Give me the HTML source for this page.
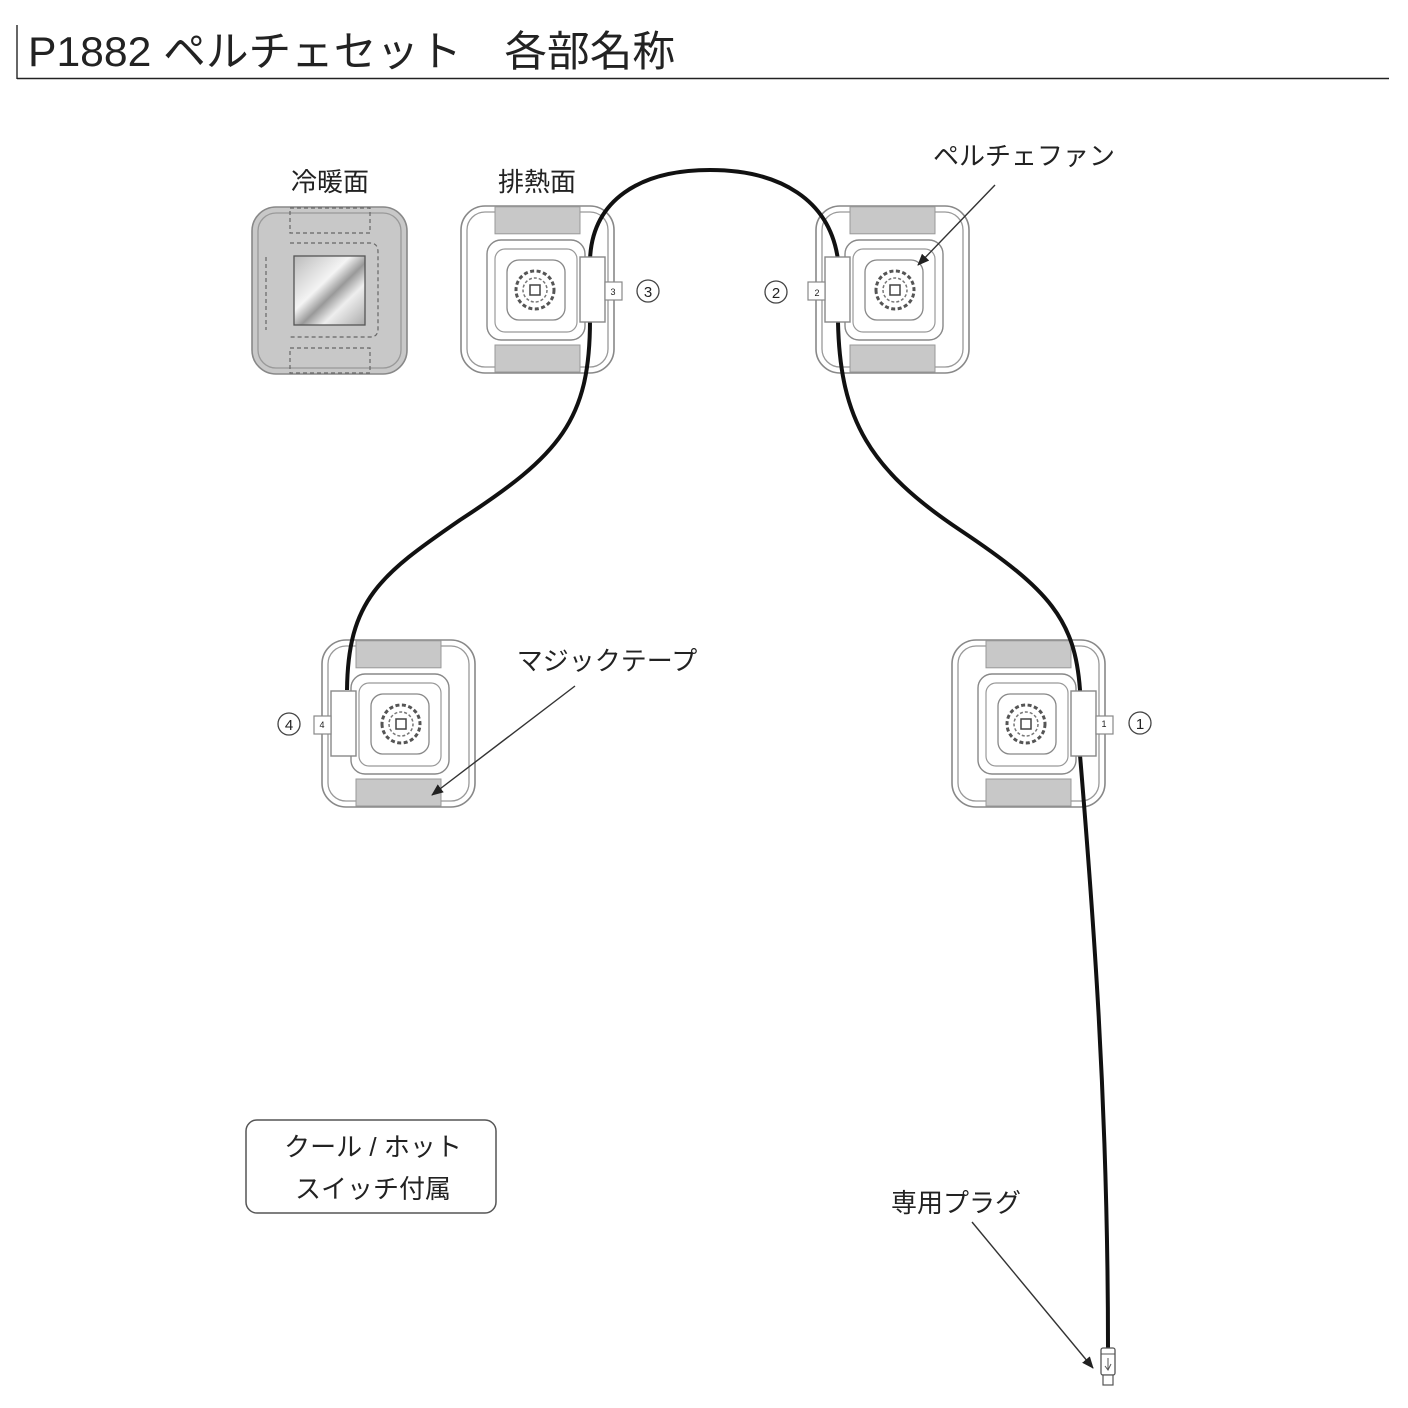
<!DOCTYPE html>
<html><head><meta charset="utf-8"><style>
html,body{margin:0;padding:0;background:#fff;}
svg{display:block}
text{font-family:"Liberation Sans","Noto Sans CJK JP",sans-serif;fill:#222}
</style></head><body>
<svg width="1408" height="1408" viewBox="0 0 1408 1408" xmlns="http://www.w3.org/2000/svg">
<defs>
<g id="mod">
  <rect x="0" y="0" width="153" height="167" rx="24" fill="#fff" stroke="#888" stroke-width="1.6"/>
  <rect x="6" y="6" width="141" height="155" rx="18" fill="none" stroke="#999" stroke-width="1.3"/>
  <rect x="34" y="0.8" width="85" height="27" fill="#c8c8c8" stroke="#999" stroke-width="1"/>
  <rect x="34" y="139" width="85" height="27" fill="#c8c8c8" stroke="#999" stroke-width="1"/>
  <rect x="26" y="34" width="98" height="100" rx="14" fill="#fff" stroke="#888" stroke-width="1.4"/>
  <rect x="34" y="43" width="82" height="83" rx="10" fill="none" stroke="#999" stroke-width="1.2"/>
  <rect x="46" y="54" width="58" height="60" rx="12" fill="#fff" stroke="#888" stroke-width="1.3"/>
  <circle cx="74" cy="84" r="19" fill="#fff" stroke="#555" stroke-width="3" stroke-dasharray="4 2.5"/>
  <circle cx="74" cy="84" r="12" fill="none" stroke="#777" stroke-width="1.5" stroke-dasharray="3 2"/>
  <rect x="69" y="79" width="10" height="10" fill="none" stroke="#444" stroke-width="1.5"/>
</g>
<g id="tab">
  <rect x="119" y="51" width="25" height="65" fill="#fff" stroke="#888" stroke-width="1.4"/>
  <rect x="144" y="76" width="17" height="18" fill="#fff" stroke="#888" stroke-width="1.2"/>
</g>
<marker id="ah" markerWidth="12" markerHeight="10" refX="11" refY="5" orient="auto" markerUnits="userSpaceOnUse">
  <path d="M0,0 L12,5 L0,10 Z" fill="#222"/>
</marker>
</defs>

<!-- title -->
<line x1="17" y1="25" x2="17" y2="79" stroke="#333" stroke-width="1.5"/>
<line x1="17" y1="78.5" x2="1389" y2="78.5" stroke="#222" stroke-width="1.5"/>
<text x="28" y="66" font-size="42" textLength="647" lengthAdjust="spacingAndGlyphs">P1882 ペルチェセット　各部名称</text>

<!-- labels -->
<text x="330" y="191" font-size="26" text-anchor="middle">冷暖面</text>
<text x="537" y="191" font-size="26" text-anchor="middle">排熱面</text>
<text x="1024" y="165" font-size="26" text-anchor="middle">ペルチェファン</text>
<text x="607" y="670" font-size="26" text-anchor="middle">マジックテープ</text>
<text x="956" y="1212" font-size="26" text-anchor="middle">専用プラグ</text>

<!-- cold face -->
<rect x="252" y="207" width="155" height="167" rx="24" fill="#c8c8c8" stroke="#888" stroke-width="1.6"/>
<rect x="258" y="213" width="143" height="155" rx="18" fill="none" stroke="#999" stroke-width="1.3"/>
<rect x="290" y="208" width="80" height="25" fill="none" stroke="#666" stroke-width="1.2" stroke-dasharray="4 3"/>
<rect x="290" y="348" width="80" height="25" fill="none" stroke="#666" stroke-width="1.2" stroke-dasharray="4 3"/>
<path d="M290,243 H370 Q378,243 378,252 V329 Q378,337 370,337 H290" fill="none" stroke="#666" stroke-width="1.2" stroke-dasharray="4 3"/>
<line x1="266" y1="257" x2="266" y2="330" stroke="#666" stroke-width="1.2" stroke-dasharray="4 3"/>
<defs><linearGradient id="mir" x1="0" y1="0" x2="1" y2="1"><stop offset="0" stop-color="#bbb"/><stop offset="0.4" stop-color="#f4f4f4"/><stop offset="0.55" stop-color="#999"/><stop offset="0.7" stop-color="#eee"/><stop offset="1" stop-color="#aaa"/></linearGradient></defs>
<rect x="294" y="256" width="71" height="69" fill="url(#mir)" stroke="#555" stroke-width="1.3"/>

<!-- modules -->
<use href="#mod" transform="translate(461,206)"/>
<use href="#mod" transform="translate(969,206) scale(-1,1)"/>
<use href="#mod" transform="translate(475,640) scale(-1,1)"/>
<use href="#mod" transform="translate(952,640)"/>

<!-- cable -->
<path d="M347,690 C348,600 380,575 460,520 C560,455 590,420 590,320 L590,260 C592,200 640,170 710,170 C780,170 830,200 838,260 L838,322 C840,420 870,470 960,530 C1050,590 1075,620 1080,690 L1080,755 C1092,900 1108,1100 1108,1348" fill="none" stroke="#111" stroke-width="4"/>

<!-- tabs -->
<use href="#tab" transform="translate(461,206)"/>
<use href="#tab" transform="translate(969,206) scale(-1,1)"/>
<use href="#tab" transform="translate(475,640) scale(-1,1)"/>
<use href="#tab" transform="translate(952,640)"/>
<text x="613" y="295" font-size="9" text-anchor="middle">3</text>
<text x="817" y="296" font-size="9" text-anchor="middle">2</text>
<text x="322" y="728" font-size="9" text-anchor="middle">4</text>
<text x="1104" y="727" font-size="9" text-anchor="middle">1</text>

<!-- circled numbers -->
<g fill="#fff" stroke="#444" stroke-width="1.3">
<circle cx="648" cy="291" r="11"/><circle cx="776" cy="292" r="11"/>
<circle cx="289" cy="724" r="11"/><circle cx="1140" cy="723" r="11"/>
</g>
<text x="648" y="297" font-size="15" text-anchor="middle">3</text>
<text x="776" y="298" font-size="15" text-anchor="middle">2</text>
<text x="289" y="730" font-size="15" text-anchor="middle">4</text>
<text x="1140" y="729" font-size="15" text-anchor="middle">1</text>

<!-- plug -->
<rect x="1101" y="1348" width="14" height="27" rx="2" fill="#fff" stroke="#555" stroke-width="1.3"/>
<line x1="1101" y1="1354" x2="1115" y2="1354" stroke="#555" stroke-width="1"/>
<rect x="1103" y="1375" width="10" height="10" fill="#fff" stroke="#555" stroke-width="1.2"/>
<path d="M1108,1358 V1370 M1105,1366 L1108,1370 L1111,1364" fill="none" stroke="#555" stroke-width="1"/>

<!-- arrows -->
<line x1="995" y1="185" x2="918" y2="265" stroke="#333" stroke-width="1.4" marker-end="url(#ah)"/>
<line x1="575" y1="686" x2="432" y2="795" stroke="#333" stroke-width="1.4" marker-end="url(#ah)"/>
<line x1="972" y1="1222" x2="1093" y2="1368" stroke="#333" stroke-width="1.4" marker-end="url(#ah)"/>

<!-- switch box -->
<rect x="246" y="1120" width="250" height="93" rx="11" fill="#fff" stroke="#555" stroke-width="1.5"/>
<text x="373" y="1156" font-size="26" text-anchor="middle">クール / ホット</text>
<text x="373" y="1198" font-size="26" text-anchor="middle">スイッチ付属</text>
</svg>
</body></html>
